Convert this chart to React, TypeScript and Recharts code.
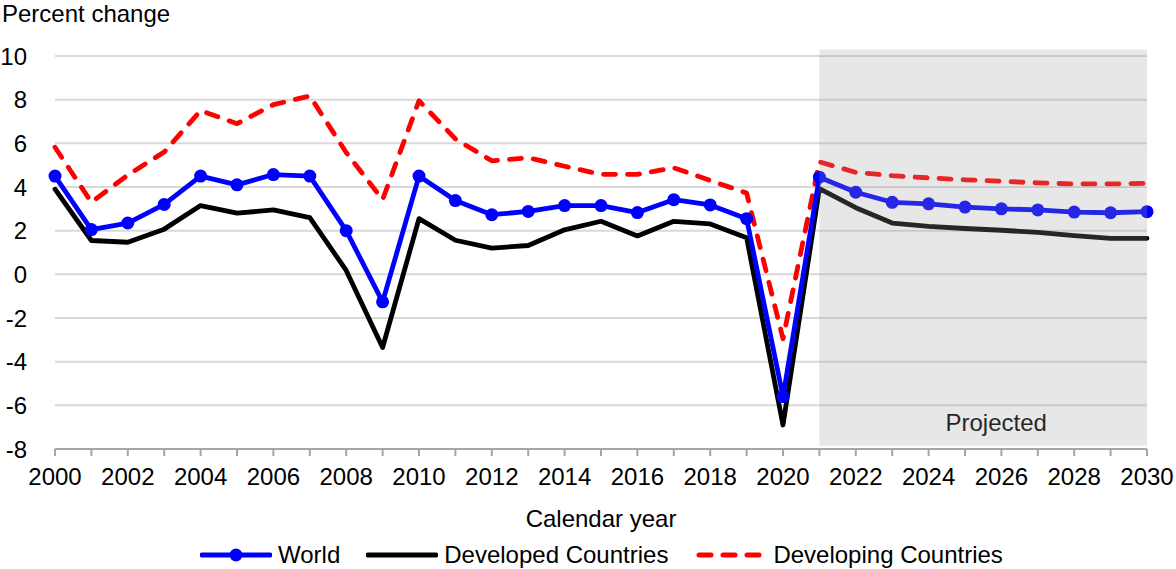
import {
  LineChart,
  Line,
  XAxis,
  YAxis,
  CartesianGrid,
  ReferenceArea,
  Label,
} from "recharts";

const years = [
  2000, 2001, 2002, 2003, 2004, 2005, 2006, 2007, 2008, 2009, 2010, 2011, 2012, 2013, 2014, 2015,
  2016, 2017, 2018, 2019, 2020, 2021, 2022, 2023, 2024, 2025, 2026, 2027, 2028, 2029, 2030,
];

const world = [
  4.5, 2.05, 2.35, 3.2, 4.5, 4.1, 4.57, 4.5, 2.0, -1.26, 4.5, 3.38, 2.73, 2.88, 3.15, 3.15,
  2.83, 3.42, 3.18, 2.55, -5.6, 4.45, 3.76, 3.3, 3.23, 3.08, 3.0, 2.95, 2.85, 2.82, 2.87,
];

const developed = [
  3.9, 1.55, 1.47, 2.07, 3.15, 2.8, 2.95, 2.6, 0.18, -3.35, 2.55, 1.56, 1.2, 1.32, 2.04, 2.43,
  1.76, 2.43, 2.31, 1.68, -6.9, 3.92, 3.05, 2.35, 2.2, 2.1, 2.02, 1.92, 1.77, 1.65, 1.65,
];

const developing = [
  5.82, 3.3, 4.55, 5.6, 7.5, 6.9, 7.77, 8.17, 5.58, 3.42, 7.95, 6.2, 5.2, 5.34, 4.95, 4.58,
  4.58, 4.88, 4.3, 3.72, -2.95, 5.15, 4.67, 4.52, 4.42, 4.33, 4.26, 4.19, 4.14, 4.14, 4.17,
];

const yTicks = [-8, -6, -4, -2, 0, 2, 4, 6, 8, 10];

const data = years.map((year, i) => ({
  year,
  world: world[i],
  developed: developed[i],
  developing: developing[i],
}));

const font = "'Liberation Sans', Arial, sans-serif";
const fs = 24;

function LegendRow() {
  const item = { display: "flex", alignItems: "center" } as const;
  const text = { fontSize: fs, lineHeight: "20px", marginLeft: 6 } as const;
  return (
    <div
      style={{
        position: "absolute",
        left: 200,
        top: 545,
        display: "flex",
        alignItems: "center",
        fontFamily: font,
        color: "#000",
      }}
    >
      <div style={{ ...item, marginRight: 26 }}>
        <svg width={72} height={20}>
          <line x1={2} y1={10} x2={70} y2={10} stroke="#0000ff" strokeWidth={5} strokeLinecap="round" />
          <circle cx={36} cy={10} r={6.5} fill="#0000ff" />
        </svg>
        <span style={text}>World</span>
      </div>
      <div style={{ ...item, marginRight: 28 }}>
        <svg width={72} height={20}>
          <line x1={2} y1={10} x2={70} y2={10} stroke="#000" strokeWidth={5} strokeLinecap="round" />
        </svg>
        <span style={text}>Developed Countries</span>
      </div>
      <div style={item}>
        <svg width={66} height={20}>
          <line
            x1={3}
            y1={10}
            x2={63}
            y2={10}
            stroke="#ff0000"
            strokeWidth={5}
            strokeLinecap="round"
            strokeDasharray="12 12"
          />
        </svg>
        <span style={{ ...text, marginLeft: 11 }}>Developing Countries</span>
      </div>
    </div>
  );
}

export default function App() {
  return (
    <div style={{ position: "absolute", left: 0, top: 0, width: 1176, height: 569, fontFamily: font }}>
      <div
        style={{
          position: "absolute",
          left: 2,
          top: 2,
          fontSize: fs,
          lineHeight: 1,
          color: "#000",
        }}
      >
        Percent change
      </div>
      <LineChart
        width={1176}
        height={569}
        data={data}
        margin={{ top: 56, right: 29, bottom: 0, left: 0 }}
        style={{ fontFamily: font }}
      >
        <CartesianGrid vertical={false} stroke="#d9d9d9" strokeWidth={2} />
        <XAxis
          dataKey="year"
          type="number"
          domain={[2000, 2030]}
          ticks={years}
          interval={0}
          tickFormatter={(v: number) => (v % 2 === 0 ? String(v) : "")}
          height={120}
          tickSize={7}
          tickMargin={12}
          axisLine={{ stroke: "#a6a6a6", strokeWidth: 2 }}
          tickLine={{ stroke: "#a6a6a6", strokeWidth: 2 }}
          tick={{ fill: "#000", fontSize: fs }}
        >
          <Label value="Calendar year" position="insideTop" offset={61} fill="#000" fontSize={fs} />
        </XAxis>
        <YAxis
          domain={[-8, 10]}
          ticks={yTicks}
          interval={0}
          width={55}
          axisLine={false}
          tickLine={false}
          tickMargin={22}
          tick={{ fill: "#000", fontSize: fs }}
        />
        <Line
          dataKey="developing"
          stroke="#ff0000"
          strokeWidth={4.8}
          strokeDasharray="12 12"
          strokeLinecap="round"
          strokeLinejoin="round"
          dot={false}
          isAnimationActive={false}
        />
        <Line
          dataKey="developed"
          stroke="#000000"
          strokeWidth={4.8}
          strokeLinecap="round"
          strokeLinejoin="round"
          dot={false}
          isAnimationActive={false}
        />
        <Line
          dataKey="world"
          stroke="#0000ff"
          strokeWidth={4.8}
          strokeLinecap="round"
          strokeLinejoin="round"
          dot={{ r: 6.5, fill: "#0000ff", stroke: "none" }}
          activeDot={false}
          isAnimationActive={false}
        />
        <ReferenceArea
          x1={2021}
          x2={2030}
          y1={-7.85}
          y2={10.3}
          ifOverflow="visible"
          fill="#9c9c9c"
          fillOpacity={0.243}
          stroke="none"
          zIndex={2000}
        >
          <Label value="Projected" position="insideBottom" offset={15} dx={13} fill="#000" fontSize={fs} />
        </ReferenceArea>
      </LineChart>
      <LegendRow />
    </div>
  );
}
